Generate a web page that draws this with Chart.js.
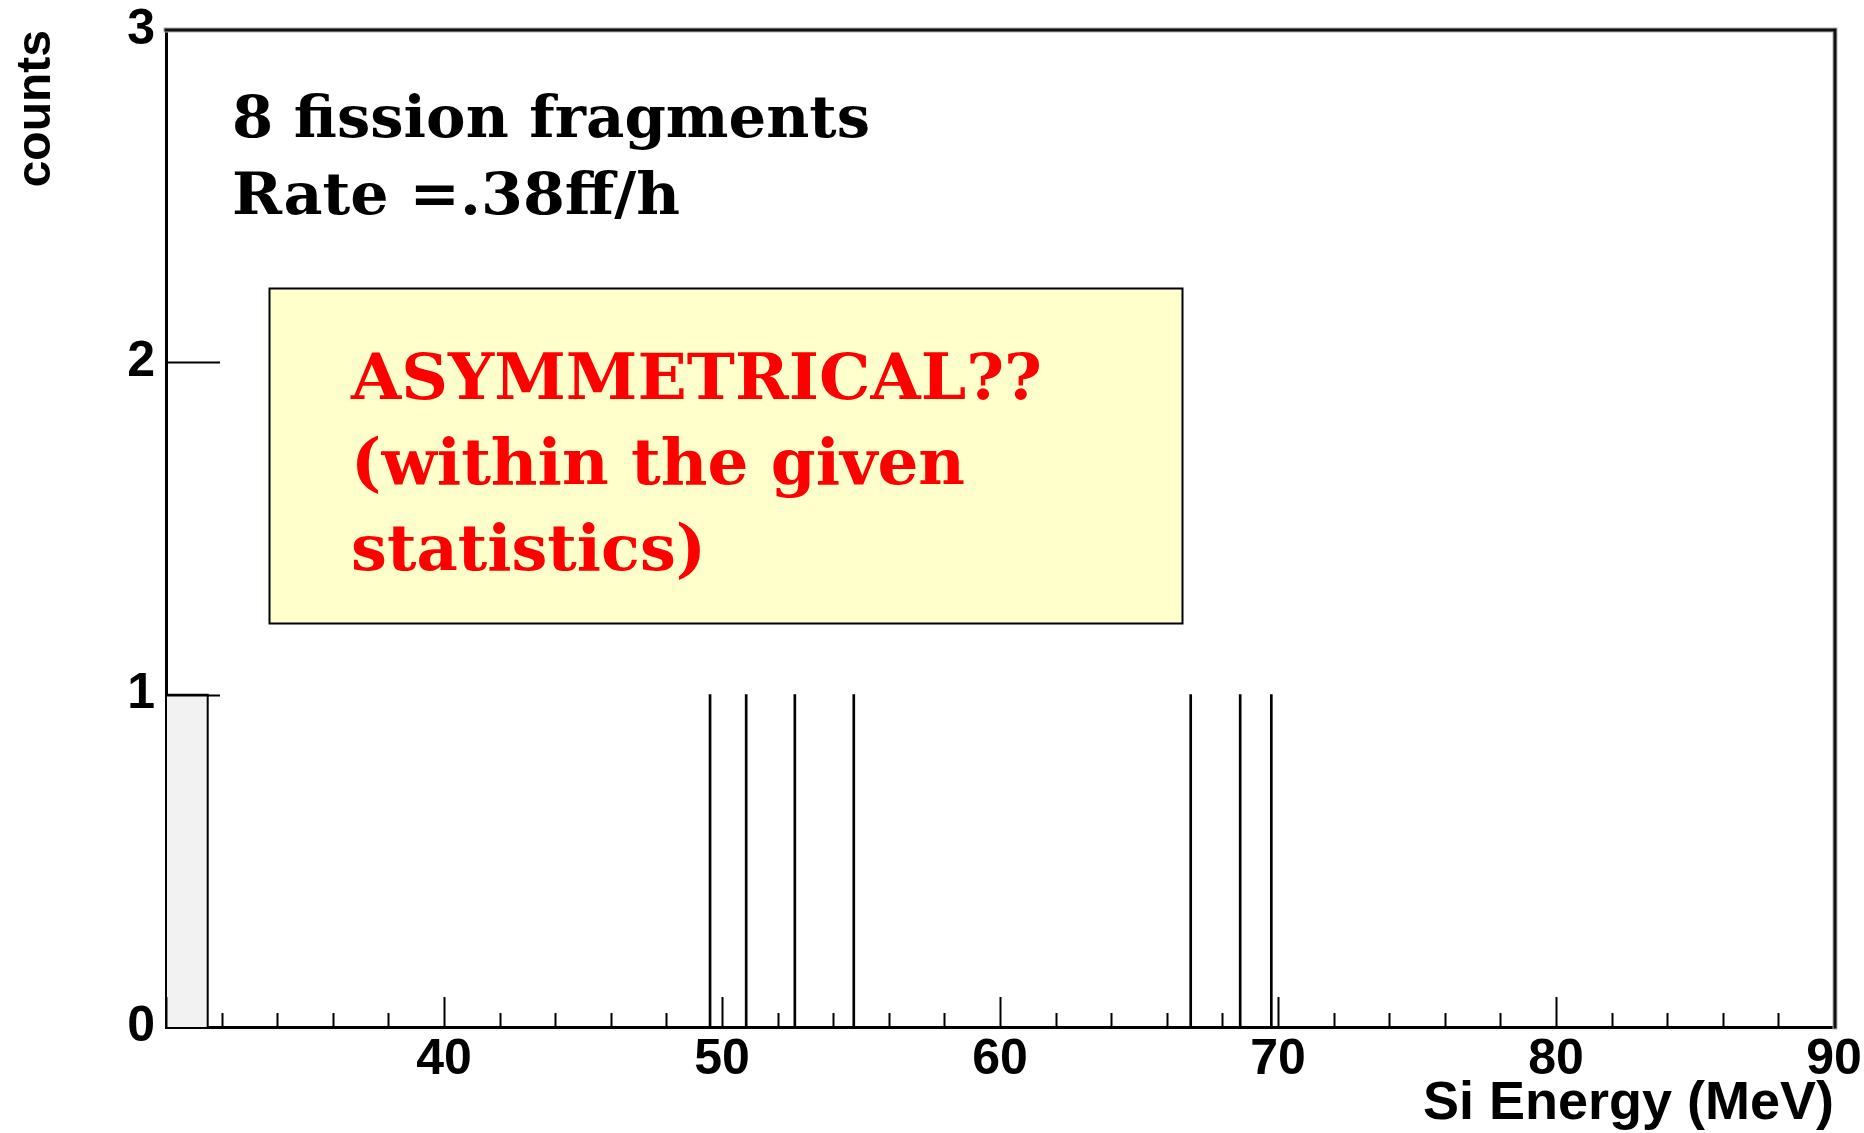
<!DOCTYPE html>
<html>
<head>
<meta charset="utf-8">
<title>Si Energy spectrum</title>
<script src="https://cdn.jsdelivr.net/npm/chart.js@4.4.1/dist/chart.umd.min.js"></script>
<style>
  html, body { margin: 0; padding: 0; background: #ffffff; }
  #wrap { width: 1864px; height: 1133px; position: relative; }
  canvas { display: block; }
</style>
</head>
<body>
<div id="wrap"><canvas id="c" width="1864" height="1133"></canvas></div>
<script>
// Fission fragment energies (MeV), one count each
const fragmentEnergies = [49.57, 50.87, 52.62, 54.74, 66.86, 68.64, 69.76];
const fragmentCounts = [1, 1, 1, 1, 1, 1, 1];
// Lowest (shaded) bin: edges and content
const firstBinEdges = [30, 31.5];
const firstBinCount = 1;
// Axis ranges and labelled ticks
const xRange = [30, 90];
const yRange = [0, 3];
const xLabelValues = [40, 50, 60, 70, 80, 90];
const yLabelValues = [0, 1, 2, 3];
const xMinorStep = 2;
// Text drawn over the plot
const headerLines = ['8 fission fragments', 'Rate =.38ff/h'];
const noteLines = ['ASYMMETRICAL??', '(within the given', 'statistics)'];

const lineData = fragmentEnergies.map((e, i) => ({ x: e, y: fragmentCounts[i] }));
const binOutline = [
  { x: firstBinEdges[0], y: 0 },
  { x: firstBinEdges[0], y: firstBinCount },
  { x: firstBinEdges[1], y: firstBinCount },
  { x: firstBinEdges[1], y: 0 }
];

const SANS = "'Liberation Sans', Arial, sans-serif";
const SERIF = "'DejaVu Serif', serif";

// Inward tick marks in the ROOT style plus the top/right frame
const frameTicks = {
  id: 'frameTicks',
  afterDatasetsDraw(chart) {
    const { ctx, chartArea: a, scales } = chart;
    const xs = scales.x, ys = scales.y;
    ctx.save();
    ctx.strokeStyle = '#000';
    ctx.lineWidth = 2;
    for (let v = xRange[0]; v <= xRange[1] + 1e-9; v += xMinorStep) {
      const px = Math.round(xs.getPixelForValue(v)) + 0.5;
      const len = (v % 10 === 0) ? 30 : 14;
      ctx.beginPath();
      ctx.moveTo(px, a.bottom);
      ctx.lineTo(px, a.bottom - len);
      ctx.stroke();
    }
    for (const v of yLabelValues) {
      if (v === yRange[0] || v === yRange[1]) continue;
      const py = Math.round(ys.getPixelForValue(v)) + 0.5;
      ctx.beginPath();
      ctx.moveTo(a.left, py);
      ctx.lineTo(a.left + 54, py);
      ctx.stroke();
    }
    // top and right frame edges
    ctx.lineCap = 'square';
    ctx.strokeStyle = '#b0b0b0';
    ctx.lineWidth = 5;
    ctx.beginPath();
    ctx.moveTo(a.left, a.top);
    ctx.lineTo(a.right + 1, a.top);
    ctx.lineTo(a.right + 1, a.bottom);
    ctx.stroke();
    ctx.strokeStyle = '#111';
    ctx.lineWidth = 3;
    ctx.beginPath();
    ctx.moveTo(a.left, a.top);
    ctx.lineTo(a.right + 1, a.top);
    ctx.lineTo(a.right + 1, a.bottom);
    ctx.stroke();
    ctx.restore();
  }
};

// Draw a line of text stretched horizontally to a given width
function fitText(ctx, text, x, y, width) {
  const w = ctx.measureText(text).width;
  ctx.save();
  ctx.translate(x, y);
  ctx.scale(width / w, 1);
  ctx.fillText(text, 0, 0);
  ctx.restore();
}

// Header text and the highlighted note box
const notes = {
  id: 'notes',
  afterDraw(chart) {
    const { ctx, chartArea: a } = chart;
    ctx.save();
    ctx.fillStyle = '#000';
    ctx.textBaseline = 'alphabetic';
    ctx.textAlign = 'left';
    ctx.font = 'bold 57px ' + SERIF;
    fitText(ctx, headerLines[0], a.left + 66, 137, 638);
    fitText(ctx, headerLines[1], a.left + 66, 214, 448);

    const bx = a.left + 103, by = 288, bw = 913, bh = 335;
    ctx.fillStyle = '#ffffcc';
    ctx.fillRect(bx, by, bw, bh);
    ctx.strokeStyle = '#000';
    ctx.lineWidth = 2;
    ctx.strokeRect(bx + 0.5, by + 0.5, bw, bh);

    ctx.fillStyle = '#ff0000';
    ctx.font = 'bold 64px ' + SERIF;
    const base = [399, 484, 570];
    const widths = [691, 614, 355];
    noteLines.forEach((t, i) => fitText(ctx, t, a.left + 185, base[i], widths[i]));
    ctx.restore();
  }
};

new Chart(document.getElementById('c'), {
  type: 'bar',
  data: {
    datasets: [
      {
        type: 'line',
        data: binOutline,
        borderColor: '#000',
        borderWidth: 2,
        backgroundColor: '#f2f2f2',
        fill: 'origin',
        pointRadius: 0,
        tension: 0,
        order: 2
      },
      {
        type: 'bar',
        data: lineData,
        backgroundColor: '#000',
        borderWidth: 0,
        barThickness: 2,
        order: 1
      }
    ]
  },
  options: {
    responsive: false,
    animation: false,
    events: [],
    layout: { padding: { top: 30, right: 30, left: 0, bottom: 0 } },
    plugins: {
      legend: { display: false },
      tooltip: { enabled: false }
    },
    scales: {
      x: {
        type: 'linear',
        min: xRange[0],
        max: xRange[1],
        offset: false,
        afterFit(s) { s.height = 106; s.paddingLeft = 0; s.paddingRight = 0; },
        afterBuildTicks(s) {
          const t = [];
          for (let v = xRange[0]; v <= xRange[1] + 1e-9; v += xMinorStep) t.push({ value: v });
          s.ticks = t;
        },
        grid: { display: true, drawOnChartArea: false, drawTicks: false, offset: false, color: 'rgba(0,0,0,0)' },
        border: { display: true, color: '#000', width: 3 },
        ticks: {
          autoSkip: false,
          maxRotation: 0,
          padding: 3,
          color: '#000',
          font: { family: SANS, size: 50, weight: 'bold' },
          callback: v => (xLabelValues.includes(v) ? String(v) : '')
        },
        title: {
          display: true,
          text: 'Si Energy (MeV)',
          align: 'end',
          color: '#000',
          font: { family: SANS, size: 54, weight: 'bold', lineHeight: 1.0 },
          padding: { top: 0, bottom: 2 }
        }
      },
      y: {
        type: 'linear',
        min: yRange[0],
        max: yRange[1],
        afterFit(s) { s.width = 166; s.paddingTop = 0; s.paddingBottom = 0; },
        afterBuildTicks(s) { s.ticks = yLabelValues.map(v => ({ value: v })); },
        grid: { display: true, drawOnChartArea: false, drawTicks: false, color: 'rgba(0,0,0,0)' },
        border: { display: true, color: '#000', width: 3 },
        ticks: {
          padding: 11,
          color: '#000',
          font: { family: SANS, size: 50, weight: 'bold' },
          callback: v => String(v)
        },
        title: {
          display: true,
          text: 'counts',
          align: 'end',
          color: '#000',
          font: { family: SANS, size: 48, weight: 'bold', lineHeight: 1.2 },
          padding: { top: 8, bottom: 0 }
        }
      }
    }
  },
  plugins: [frameTicks, notes]
});
</script>
</body>
</html>
